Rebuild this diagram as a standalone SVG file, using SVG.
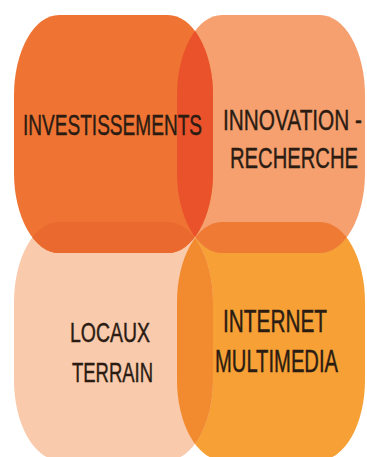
<svg xmlns="http://www.w3.org/2000/svg" xmlns:xlink="http://www.w3.org/1999/xlink" width="367" height="457" viewBox="0 0 367 457">
  <style>
    .lbl { font-family: "Liberation Sans", Arial, sans-serif; fill: #2b1c13; stroke: #2b1c13; stroke-width: 0.45; }
  </style>
  <defs>
    <path id="shTL" d="M59,15 H168 A45 80 0 0 1 213 95 V173 A45 80 0 0 1 168 253 H59 A45 80 0 0 1 14 173 V95 A45 80 0 0 1 59 15 Z"/>
    <path id="shTR" d="M222,15 H320 A45 80 0 0 1 365 95 V173 A45 80 0 0 1 320 253 H222 A45 80 0 0 1 177 173 V95 A45 80 0 0 1 222 15 Z"/>
    <path id="shBL" d="M59,222 H168 A45 80 0 0 1 213 302 V380 A45 80 0 0 1 168 460 H59 A45 80 0 0 1 14 380 V302 A45 80 0 0 1 59 222 Z"/>
    <path id="shBR" d="M222,222 H320 A45 80 0 0 1 365 302 V380 A45 80 0 0 1 320 460 H222 A45 80 0 0 1 177 380 V302 A45 80 0 0 1 222 222 Z"/>
    <clipPath id="cTR"><use xlink:href="#shTR"/></clipPath>
    <clipPath id="cBL"><use xlink:href="#shBL"/></clipPath>
    <clipPath id="cBR"><use xlink:href="#shBR"/></clipPath>
  </defs>
  <rect width="367" height="457" fill="#ffffff"/>

  <g id="node-internet-multimedia">
    <use xlink:href="#shBR" fill="#F6A035"/>
    <text class="lbl" x="223" y="332" font-size="32" textLength="104" lengthAdjust="spacingAndGlyphs">INTERNET</text>
    <text class="lbl" x="215" y="372" font-size="32" textLength="123" lengthAdjust="spacingAndGlyphs">MULTIMEDIA</text>
  </g>

  <g id="node-locaux-terrain">
    <use xlink:href="#shBL" fill="#F9CAAB"/>
    <use xlink:href="#shBL" fill="#F28B30" clip-path="url(#cBR)"/>
    <text class="lbl" x="70" y="342" font-size="28" textLength="80" lengthAdjust="spacingAndGlyphs">LOCAUX</text>
    <text class="lbl" x="72" y="382" font-size="28" textLength="81" lengthAdjust="spacingAndGlyphs">TERRAIN</text>
  </g>

  <g id="node-innovation-recherche">
    <use xlink:href="#shTR" fill="#F5A06E"/>
    <use xlink:href="#shTR" fill="#EE7A33" clip-path="url(#cBR)"/>
    <text class="lbl" x="223" y="130" font-size="30" textLength="139" lengthAdjust="spacingAndGlyphs">INNOVATION -</text>
    <text class="lbl" x="230" y="168" font-size="30" textLength="128" lengthAdjust="spacingAndGlyphs">RECHERCHE</text>
  </g>

  <g id="node-investissements">
    <use xlink:href="#shTL" fill="#EF7434"/>
    <use xlink:href="#shTL" fill="#E9692F" clip-path="url(#cBL)"/>
    <use xlink:href="#shTL" fill="#E9522A" clip-path="url(#cTR)"/>
    <text class="lbl" x="23" y="135" font-size="30" textLength="179" lengthAdjust="spacingAndGlyphs">INVESTISSEMENTS</text>
  </g>
</svg>
